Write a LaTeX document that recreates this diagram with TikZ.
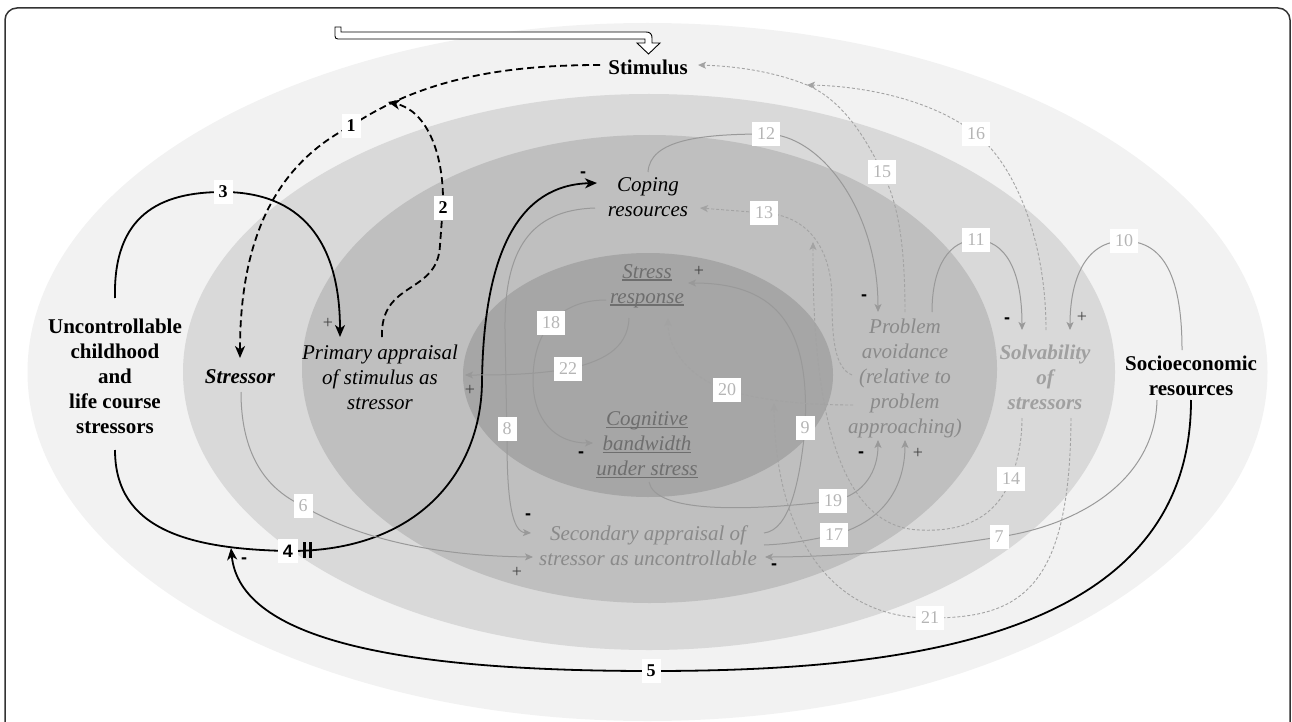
\documentclass[tikz,border=0pt]{standalone}
\usepackage{fontspec}
\setmainfont{Liberation Serif}
\newfontfamily\sansfam{Liberation Sans}
\usetikzlibrary{arrows.meta}
\definecolor{ringA}{HTML}{F2F2F2}
\definecolor{ringB}{HTML}{D9D9D9}
\definecolor{ringC}{HTML}{BFBFBF}
\definecolor{ringD}{HTML}{A6A6A6}
\definecolor{lineg}{HTML}{999999}
\definecolor{dashg}{HTML}{A3A3A3}
\definecolor{numg}{HTML}{B5B5B5}
\definecolor{txtg}{HTML}{8A8A8A}
\definecolor{txtd}{HTML}{6E6E6E}
\definecolor{txtl}{HTML}{A0A0A0}
\definecolor{plusg}{HTML}{404040}
\definecolor{frameg}{HTML}{333333}
\newcommand\myul[1]{\setbox0=\hbox{#1}\rlap{\rule[-3pt]{\wd0}{1.8pt}}\box0}
\begin{document}
\begin{tikzpicture}[x=1pt,y=-1pt,
  txtr/.style={font=\fontsize{21}{25}\selectfont, align=center, inner sep=0pt},
  txti/.style={font=\fontsize{21}{25}\selectfont\itshape, align=center, inner sep=0pt},
  txtb/.style={font=\fontsize{21}{25}\selectfont\bfseries, align=center, inner sep=0pt},
  txtbi/.style={font=\fontsize{21}{25}\selectfont\bfseries\itshape, align=center, inner sep=0pt},
  numbox/.style={fill=white, font=\fontsize{18}{18}\selectfont, text=numg, inner xsep=5pt, inner ysep=0pt, minimum height=24pt},
  blknum/.style={numbox, text=black, font=\fontsize{18}{18}\selectfont\bfseries},
  gline/.style={draw=lineg, line width=1pt, -{Stealth[length=8pt,width=7pt,inset=2pt]}},
  gdash/.style={draw=dashg, line width=0.9pt, dash pattern=on 3pt off 2pt, -{Stealth[length=8pt,width=7pt,inset=2pt]}},
  bline/.style={draw=black, line width=1.8pt, -{Stealth[length=12pt,width=10pt,inset=3.5pt]}},
  bdash/.style={bline, dash pattern=on 7pt off 4pt},
  sgnminus/.style={font=\fontsize{18}{18}\selectfont\sansfam\bfseries, inner sep=0pt},
  sgnplus/.style={font=\fontsize{18}{18}\selectfont, text=plusg, inner sep=0pt}]
\useasboundingbox (0,0) rectangle (1292,722);
\begin{scope}
\clip (0,0) rectangle (1292,722);
% nested rings
\fill[ringA] (647.5,372) ellipse [x radius=620pt, y radius=349pt];
\fill[ringB] (649,372) ellipse [x radius=466pt, y radius=278pt];
\fill[ringC] (649.5,369) ellipse [x radius=347.5pt, y radius=234pt];
\fill[ringD] (648,375) ellipse [x radius=185pt, y radius=122pt];
% frame
\draw[frameg, line width=1.5pt, rounded corners=12pt] (5,8) rectangle (1290,760);
\end{scope}
% hollow input arrow
\draw[line width=0.9pt, fill=white] (335,27) -- (341,27) -- (341,32) -- (646,32) .. controls (650,32) and (652,34) .. (652,38) -- (652,43) -- (660,43) -- (648.5,54) -- (637,43) -- (645,43) -- (645,39) -- (338,39) .. controls (336,39) and (335,38) .. (335,36) -- cycle;

% text nodes
\node[txtb] (stim) at (648,67) {Stimulus};
\node[txtb] (life) at (115,376) {Uncontrollable\\childhood\\and\\life course\\stressors};
\node[txtbi] (stressor) at (240,377) {Stressor};
\node[txti] (primary) at (380,377) {Primary appraisal\\of stimulus as\\stressor};
\node[txti] (coping) at (648,197.5) {Coping\\resources};
\node[txti, text=txtd] (sresp) at (647,286) {\myul{Stress}\\\myul{response}};
\node[txti, text=txtd] (cogn) at (647,445) {\myul{Cognitive}\\\myul{bandwidth}\\\myul{under stress}};
\node[txti, text=txtg] (avoid) at (905,378) {Problem\\avoidance\\(relative to\\problem\\approaching)};
\node[txtbi, text=txtl] (solv) at (1045,377) {Solvability\\of\\stressors};
\node[txtb] (socio) at (1191,375.5) {Socioeconomic\\resources};
\node[txti, text=txtg] (second) at (648,545.5) {Secondary appraisal of\\stressor as uncontrollable};

% black connectors
\draw[bdash] (600,65) .. controls (500,65) and (420,80) .. (351,126) .. controls (285,160) and (240,225) .. (240,358);
\draw[bdash] (382,337) .. controls (380,280) and (438,295) .. (440,245) -- (443,205) .. controls (444,150) and (425,110) .. (388,102);
\draw[bline] (115,298) .. controls (113,215) and (160,192) .. (223,192) .. controls (300,192) and (340,240) .. (340,337);
\draw[bline] (115,450) .. controls (115,530) and (190,549) .. (288,551) .. controls (420,552) and (482,470) .. (482,380) .. controls (484,250) and (520,185) .. (597,183);
\draw[bline] (1191,400) .. controls (1191,640) and (900,671) .. (651,671) .. controls (400,671) and (240,640) .. (231,548);
\draw[line width=3.5pt] (304.5,542) -- (304.5,558) (310.5,542) -- (310.5,558);

% grey solid connectors
\draw[gline] (241,392) .. controls (241,470) and (280,495) .. (303,506) .. controls (360,540) and (440,556) .. (533,557);
\draw[gline] (1157,400) .. controls (1155,480) and (1080,525) .. (999,537) .. controls (900,553) and (820,557) .. (765,557);
\draw[gline] (595,208) .. controls (530,210) and (504,250) .. (505,330) -- (507,440) .. controls (507,500) and (512,532) .. (531,533);
\draw[gline] (764,533) .. controls (790,530) and (800,480) .. (805,428) .. controls (810,330) and (780,283) .. (688,283);
\draw[gline] (1182,350) .. controls (1182,270) and (1160,241) .. (1124,241) .. controls (1085,241) and (1070,280) .. (1070,330);
\draw[gline] (932,312) .. controls (932,265) and (950,240) .. (976,240) .. controls (1005,240) and (1022,270) .. (1022,330);
\draw[gline] (648,172) .. controls (650,140) and (700,134) .. (766,134) .. controls (820,134) and (878,210) .. (878,312);
\draw[gline] (764,545) .. controls (790,544) and (810,540) .. (834,535) .. controls (890,520) and (905,480) .. (905,440);
\draw[gline] (649,482) .. controls (655,512) and (740,512) .. (833,501) .. controls (865,495) and (878,470) .. (878,440);
\draw[gline] (606,300) .. controls (560,300) and (533,330) .. (533,380) .. controls (533,420) and (555,443) .. (593,443);
\draw[gline] (629,318) .. controls (628,350) and (600,362) .. (568,369) .. controls (530,375) and (500,375) .. (465,375);

% grey dashed connectors
\draw[gdash] (852,375) .. controls (835,368) and (832,340) .. (832,300) .. controls (832,245) and (805,215) .. (764,213) -- (700,208);
\draw[gdash] (1022,418) .. controls (1022,440) and (1018,460) .. (1011,479) .. controls (995,520) and (960,532) .. (920,530) .. controls (850,528) and (812,440) .. (813,242);
\draw[gdash] (905,312) .. controls (905,240) and (897,200) .. (882,172) .. controls (860,125) and (835,97) .. (807,85) .. controls (770,70) and (730,66) .. (698,65);
\draw[gdash] (1046,330) .. controls (1046,240) and (1015,165) .. (976,134) .. controls (930,98) and (860,86) .. (807,85);
\draw[gdash] (853,405) .. controls (800,405) and (760,400) .. (727,390) .. controls (690,378) and (668,350) .. (668,318);
\draw[gdash] (1071,418) .. controls (1070,590) and (1020,618) .. (930,618) .. controls (820,618) and (775,520) .. (774,403);

% number labels
\node[blknum] (n1) at (351,126) {1};
\node[blknum] (n2) at (443,208) {2};
\node[blknum] (n3) at (223,192) {3};
\node[blknum, font=\fontsize{18}{18}\selectfont\sansfam\bfseries] (n4) at (288,551) {4};
\node[blknum] (n5) at (651,671) {5};
\node[numbox] (n6) at (303,506) {6};
\node[numbox] (n7) at (999,537) {7};
\node[numbox] (n8) at (507,429) {8};
\node[numbox] (n9) at (805,428) {9};
\node[numbox] (n10) at (1124,241) {10};
\node[numbox] (n11) at (976,240) {11};
\node[numbox] (n12) at (766,134) {12};
\node[numbox] (n13) at (764,213) {13};
\node[numbox] (n14) at (1011,479) {14};
\node[numbox] (n15) at (882,172) {15};
\node[numbox] (n16) at (976,134) {16};
\node[numbox] (n17) at (834,535) {17};
\node[numbox] (n18) at (551,323) {18};
\node[numbox] (n19) at (833,501) {19};
\node[numbox] (n20) at (727,390) {20};
\node[numbox] (n21) at (930,618) {21};
\node[numbox] (n22) at (568,369) {22};

% signs
\node[sgnminus] (m1) at (583,175) {-};
\node[sgnminus] (m2) at (244,561) {-};
\node[sgnminus] (m3) at (528,517) {-};
\node[sgnminus] (m4) at (774,567) {-};
\node[sgnminus] (m5) at (1007,321) {-};
\node[sgnminus] (m6) at (864,298) {-};
\node[sgnminus] (m7) at (861,455) {-};
\node[sgnminus] (m8) at (581,455) {-};
\node[sgnplus] (p1) at (328,323) {+};
\node[sgnplus] (p2) at (470,390) {+};
\node[sgnplus] (p3) at (517,572) {+};
\node[sgnplus] (p4) at (699,271) {+};
\node[sgnplus] (p5) at (1082,317) {+};
\node[sgnplus] (p6) at (918,453) {+};
\end{tikzpicture}
\end{document}
